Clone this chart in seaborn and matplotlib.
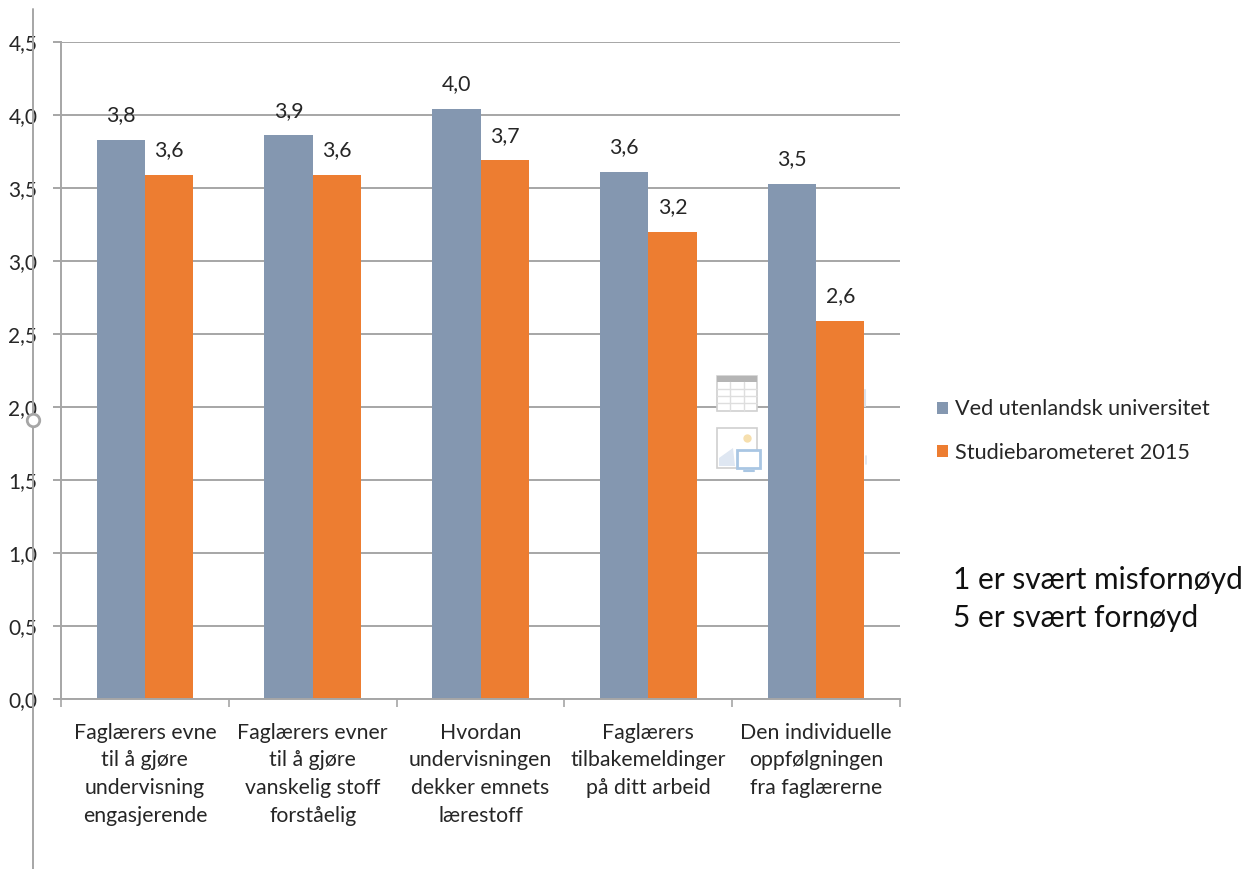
import pandas as pd
import seaborn as sns
import numpy as np
import matplotlib.pyplot as plt
from matplotlib.patches import Rectangle, Polygon
from matplotlib.lines import Line2D

categories = [
    "Faglærers evne\ntil å gjøre\nundervisning\nengasjerende",
    "Faglærers evner\ntil å gjøre\nvanskelig stoff\nforståelig",
    "Hvordan\nundervisningen\ndekker emnets\nlærestoff",
    "Faglærers\ntilbakemeldinger\npå ditt arbeid",
    "Den individuelle\noppfølgningen\nfra faglærerne",
]
utenlandsk = [3.83, 3.86, 4.04, 3.61, 3.53]
barometer = [3.59, 3.59, 3.69, 3.2, 2.59]
series_names = ["Ved utenlandsk universitet", "Studiebarometeret 2015"]
y_ticks = [0, 0.5, 1, 1.5, 2, 2.5, 3, 3.5, 4, 4.5]
note_lines = ["1 er svært misfornøyd", "5 er svært fornøyd"]

W, H = 1251, 869
GREY = "#a6a6a6"
TEXT = "#262626"


def fx(px):
    return px / W


def fy(py):
    return 1 - py / H


def comma(v):
    return f"{v:.1f}".replace(".", ",")


def add_rect(fig, x0, y0, x1, y1, **kw):
    fig.add_artist(Rectangle((fx(x0), fy(y1)), fx(x1) - fx(x0), fy(y0) - fy(y1),
                             transform=fig.transFigure, **kw))


def add_dot(fig, x, y, size, face, edge, lw, z):
    fig.add_artist(Line2D([fx(x)], [fy(y)], marker="o", ms=size, mfc=face, mec=edge, mew=lw,
                          ls="none", zorder=z))


def faded_icons(fig):
    # the ghosted insert icons left over in the screenshot
    add_rect(fig, 717, 376, 757, 411, fc="white", ec="#d0d0d0", lw=1.2, zorder=3)
    add_rect(fig, 717, 376, 757, 382, fc="#b5b5b5", ec="none", zorder=4)
    for px in [730, 744]:
        fig.add_artist(Line2D([fx(px)] * 2, [fy(382), fy(411)], color="#dedede", lw=1, zorder=4))
    for py in [389, 396, 403]:
        fig.add_artist(Line2D([fx(717), fx(757)], [fy(py)] * 2, color="#dedede", lw=1, zorder=4))
    add_rect(fig, 717, 428, 757, 468, fc="white", ec="#cfcfcf", lw=1.2, zorder=3)
    add_dot(fig, 747, 438, 6, "#f6dfae", "none", 0, 4)
    fig.add_artist(Polygon([(fx(719), fy(466)), (fx(719), fy(458)), (fx(733), fy(448)),
                            (fx(735), fy(466))], fc="#dfe7f2", ec="none",
                           transform=fig.transFigure, zorder=4))
    add_rect(fig, 737, 450, 760, 468, fc="white", ec="#a9c6e3", lw=2, zorder=5)
    fig.add_artist(Line2D([fx(744), fx(754)], [fy(471)] * 2, color="#a9c6e3", lw=1.5, zorder=5))
    fig.add_artist(Line2D([fx(864.5), fx(864.5)], [fy(390), fy(406)], color="#dbe3ec", lw=1.5, zorder=3))
    fig.add_artist(Line2D([fx(866), fx(866)], [fy(456), fy(464)], color="#dbe3ec", lw=1.2, zorder=3))


sns.set_theme(style="white")
plt.rcParams["font.family"] = ["Lato", "DejaVu Sans"]

data = pd.DataFrame({
    "category": categories * 2,
    "series": [series_names[0]] * 5 + [series_names[1]] * 5,
    "value": utenlandsk + barometer,
})

fig = plt.figure(figsize=(W / 100, H / 100), dpi=100)
ax = fig.add_axes([fx(61), fy(699), fx(900) - fx(61), fy(42) - fy(699)])

sns.barplot(data=data, x="category", y="value", hue="series", ax=ax,
            palette=["#8497b0", "#ed7d31"], width=0.575, gap=0, saturation=1,
            edgecolor="none", zorder=2)

ax.set_xlim(-0.5, 4.5)
ax.set_ylim(0, 4.5)
ax.set_yticks(y_ticks)
ax.set_yticklabels([comma(t) for t in y_ticks], fontsize=15, color=TEXT)
ax.set_xlabel("")
ax.set_ylabel("")
ax.grid(axis="y", color=GREY, lw=1.4, zorder=0)
ax.set_axisbelow(True)

for side in ["top", "right"]:
    ax.spines[side].set_visible(False)
for side in ["left", "bottom"]:
    ax.spines[side].set_color(GREY)
    ax.spines[side].set_linewidth(1.4)

ax.tick_params(axis="y", left=True, length=6, width=1.4, color=GREY, pad=11)
ax.tick_params(axis="x", bottom=False, labelsize=15.3, labelcolor=TEXT, pad=11)
ax.set_xticks(np.arange(-0.5, 5), minor=True)
ax.tick_params(axis="x", which="minor", bottom=True, length=6, width=1.2, color=GREY)
for lab in ax.get_xticklabels():
    lab.set_linespacing(1.48)

for cont in ax.containers:
    ax.bar_label(cont, labels=[comma(b.get_height()) for b in cont], fontsize=15.3,
                 color=TEXT, padding=10.5)

# legend sits out to the right of the plot
handles, labels = ax.get_legend_handles_labels()
ax.legend(handles, labels, loc="upper left", bbox_to_anchor=(fx(917.5), fy(380)),
          bbox_transform=fig.transFigure, frameon=False, fontsize=15.6,
          handlelength=0.5, handleheight=0.5, handletextpad=0.33, labelspacing=1.08)

for line, py in zip(note_lines, [580, 618]):
    fig.text(fx(953), fy(py), line, fontsize=21.5, color="#111111", va="center", ha="left")

# stray selection line and handle from the screenshot
fig.add_artist(Line2D([fx(33), fx(33)], [fy(9), fy(869)], color=GREY, lw=1.4, zorder=1))
add_dot(fig, 33, 420, 9, "white", GREY, 2, 6)
faded_icons(fig)

fig.savefig("out.png", dpi=100)
